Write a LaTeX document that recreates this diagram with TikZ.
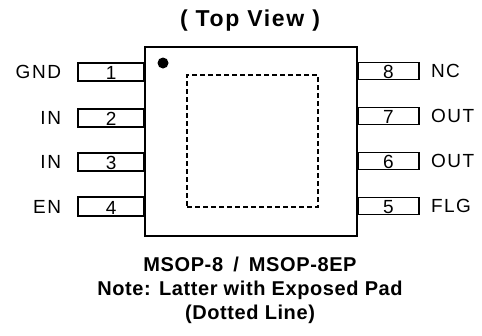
\documentclass[tikz,border=0pt]{standalone}
\usepackage{fontspec}
\setmainfont{Liberation Sans}
\usetikzlibrary{positioning}
\tikzset{
  pinbox/.style={draw, rectangle, line width=1.8pt, inner xsep=0pt,
    inner ysep=1.5pt, text depth=0pt, font=\fontsize{19}{19}\selectfont},
  leftpin/.style={pinbox, minimum width=66pt, text height=15.5pt, anchor=east},
  rightpin/.style={pinbox, minimum width=61pt, text height=14pt, anchor=west},
  pinname/.style={inner sep=0pt,
    font=\fontsize{19}{19}\selectfont\addfontfeatures{LetterSpace=8}},
  caption/.style={inner sep=0pt, align=center,
    font=\bfseries\fontsize{20}{24}\selectfont\addfontfeatures{LetterSpace=3}},
  heading/.style={inner sep=0pt,
    font=\bfseries\fontsize{23}{23}\selectfont\addfontfeatures{LetterSpace=7}}
}
\begin{document}
\begin{tikzpicture}[x=1pt, y=-1pt]
    \useasboundingbox (0,0) rectangle (482,335);
    \node[heading] (title) at (250,21) {( Top View )};
    % package body and exposed pad
    \node[draw, line width=2pt, minimum width=212pt, minimum height=189pt,
      inner sep=0pt] (body) at (251,141.5) {};
    \node[draw, dashed, line width=1.2pt, minimum width=131pt, minimum height=132pt,
      inner sep=0pt, dash pattern=on 5pt off 3pt] (pad) at (252.5,141) {};
    \node[circle, fill, minimum size=11pt, inner sep=0pt] (dot) at (163,63) {};
    % left pins
    \node[leftpin] (p1) at (145,72) {1};
    \node[leftpin] (p2) at (145,118) {2};
    \node[leftpin] (p3) at (145,162) {3};
    \node[leftpin] (p4) at (145,206.5) {4};
    \node[pinname, left=16pt of p1] (gnd) {GND};
    \node[pinname, left=16pt of p2] (in1) {IN};
    \node[pinname, left=16pt of p3] (in2) {IN};
    \node[pinname, left=16pt of p4] (en) {EN};
    % right pins
    \node[rightpin] (p8) at (357,71) {8};
    \node[rightpin] (p7) at (357,116) {7};
    \node[rightpin] (p6) at (357,161) {6};
    \node[rightpin] (p5) at (357,206) {5};
    \node[pinname, right=11pt of p8] (nc) {NC};
    \node[pinname, right=11pt of p7] (out1) {OUT};
    \node[pinname, right=11pt of p6] (out2) {OUT};
    \node[pinname, right=11pt of p5] (flg) {FLG};
    \node[caption] (note) at (250,290)
      {MSOP-8\hspace{4pt} /\hspace{4pt} MSOP-8EP\\Note: Latter with Exposed Pad\\(Dotted Line)};
\end{tikzpicture}
\end{document}
